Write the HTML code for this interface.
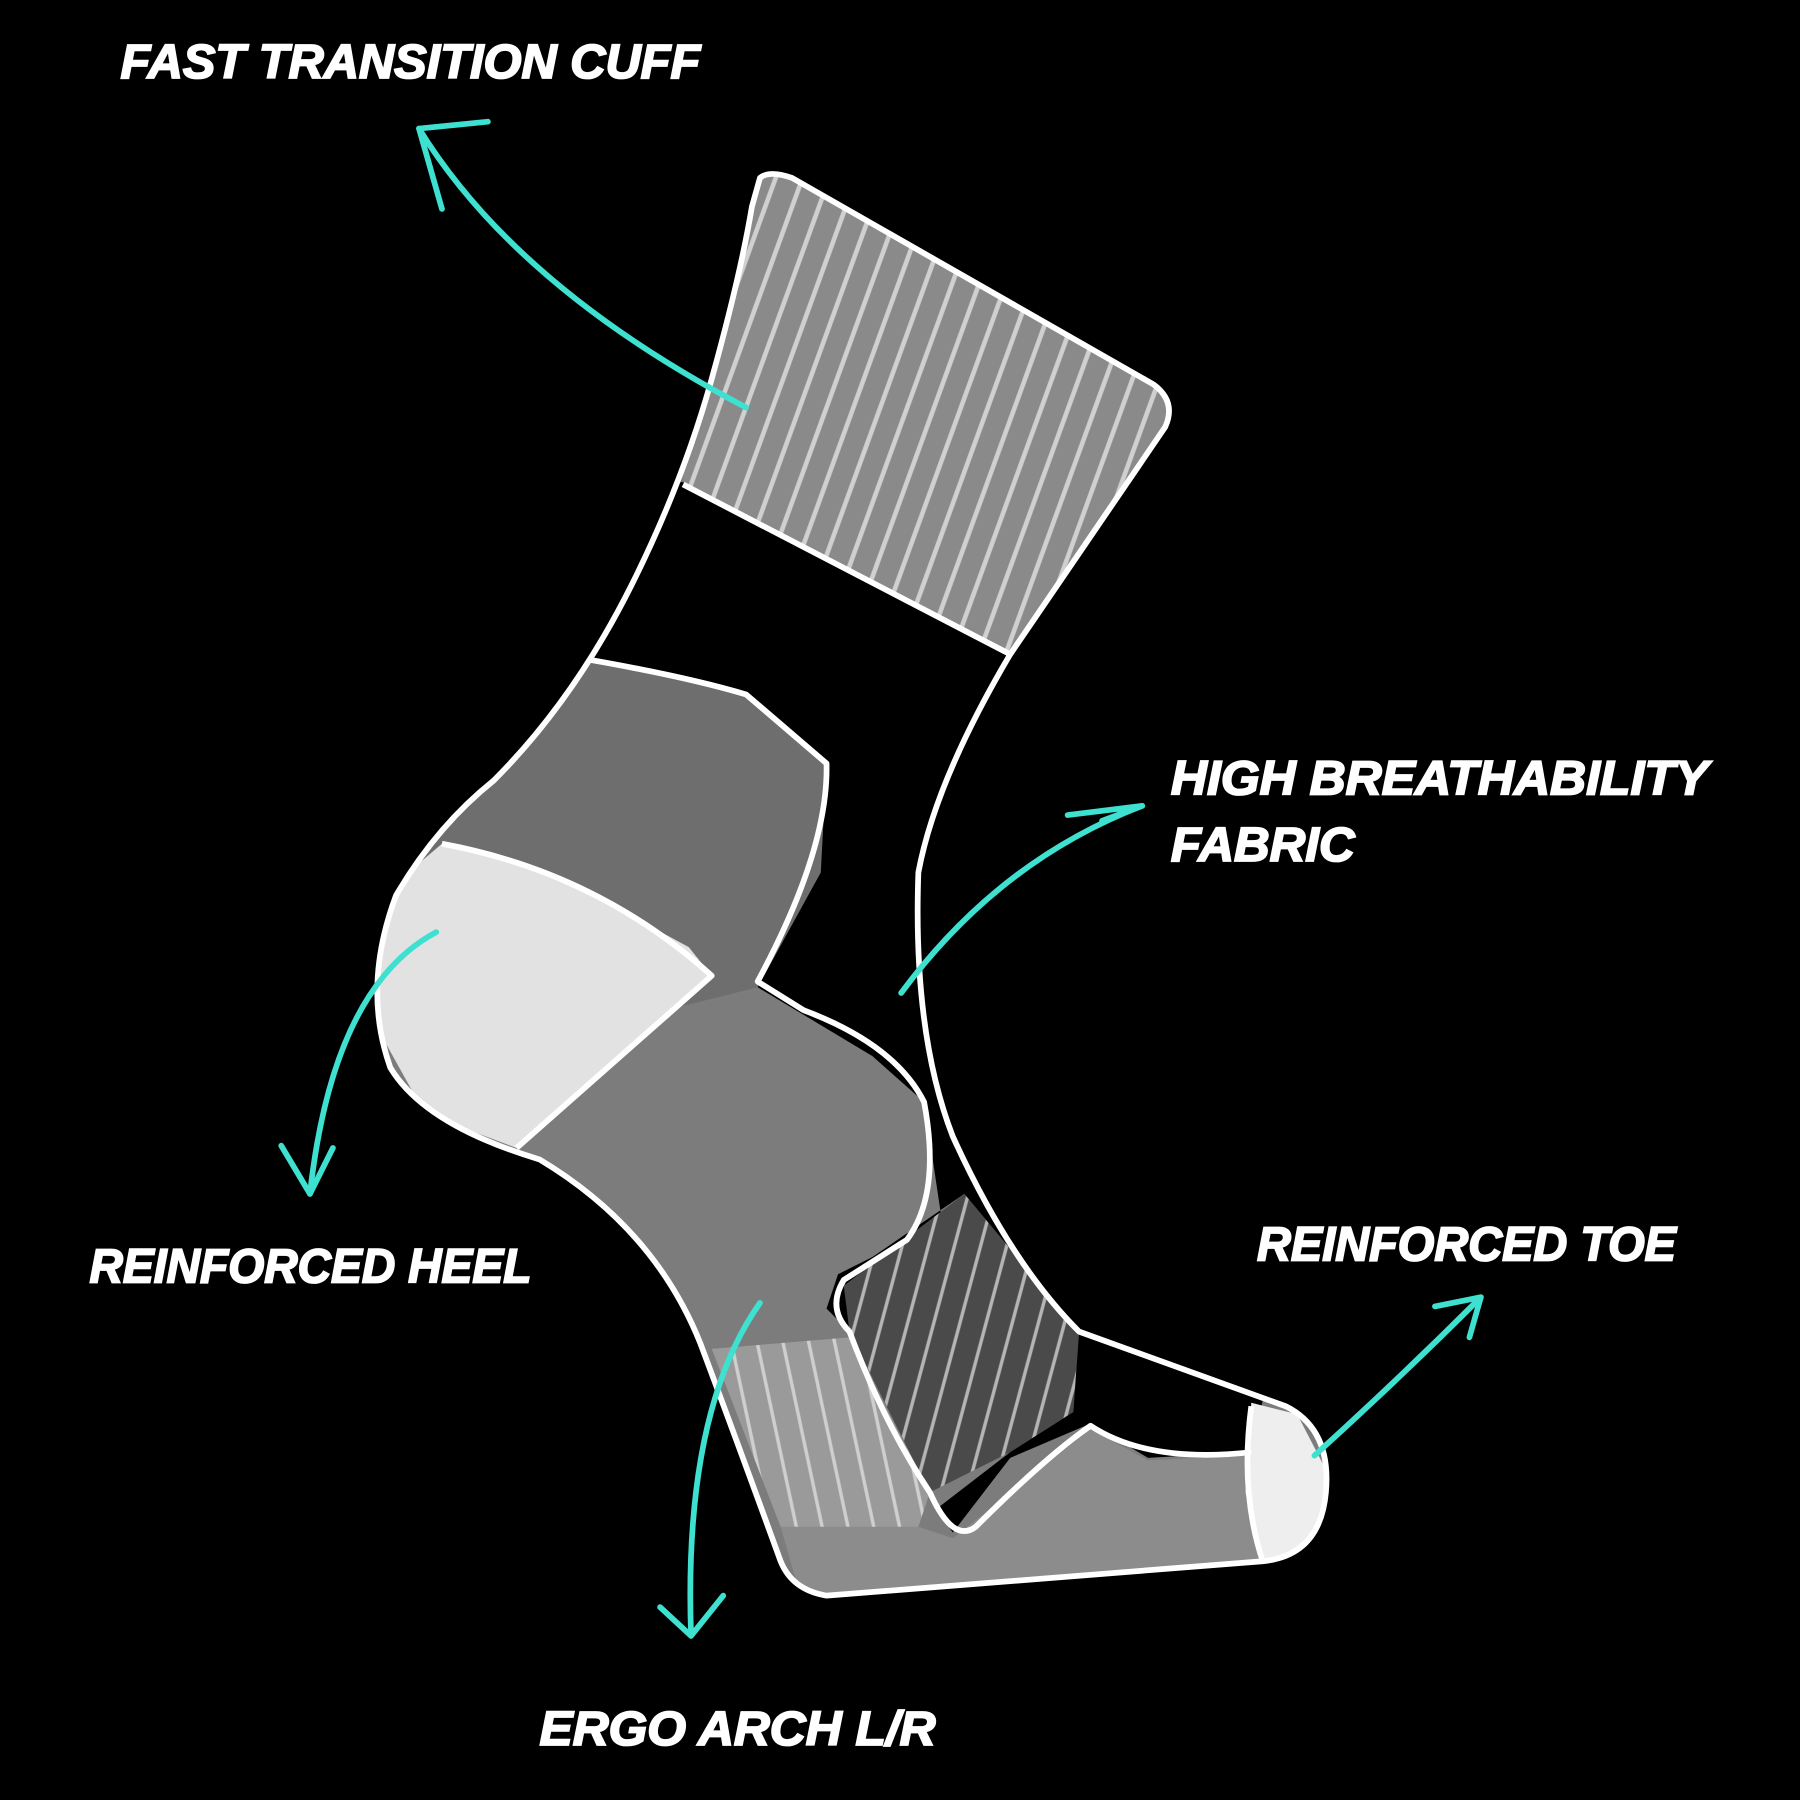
<!DOCTYPE html>
<html><head><meta charset="utf-8"><style>
html,body{margin:0;padding:0;background:#000;}
svg{display:block}
text{font-family:"Liberation Sans",sans-serif;font-weight:bold;font-style:italic;fill:#fff;font-size:42px;stroke:#fff;stroke-width:1.6px}
</style></head><body>
<svg width="1800" height="1800" viewBox="0 0 1568 1568" xmlns="http://www.w3.org/2000/svg">
<defs>
<pattern id="st" width="22" height="40" patternUnits="userSpaceOnUse" patternTransform="rotate(20)">
<rect width="22" height="40" fill="#8a8a8a"/><line x1="6" y1="0" x2="6" y2="40" stroke="#d0d0d0" stroke-width="4"/></pattern>
<pattern id="st2" width="22" height="40" patternUnits="userSpaceOnUse" patternTransform="rotate(15)">
<rect width="22" height="40" fill="#4a4a4a"/><line x1="6" y1="0" x2="6" y2="40" stroke="#b5b5b5" stroke-width="3"/></pattern>
<pattern id="st3" width="22" height="40" patternUnits="userSpaceOnUse" patternTransform="rotate(-12)">
<rect width="22" height="40" fill="#9a9a9a"/><line x1="6" y1="0" x2="6" y2="40" stroke="#cfcfcf" stroke-width="3"/></pattern>
<clipPath id="sock"><path id="sp" d="M662,155 Q670,148 690,155 L1005,335 Q1025,350 1015,372 L880,570 Q815,680 800,760 Q795,900 830,990 Q880,1100 940,1160 L1120,1225 Q1160,1245 1155,1300 Q1150,1355 1100,1360 L720,1390 Q690,1385 680,1360 Q640,1250 610,1170 Q570,1070 470,1010 Q370,980 340,930 Q315,860 345,780 Q380,720 430,680 Q500,610 550,510 Q595,420 620,330 Q645,240 655,180 Z"/></clipPath>
</defs>
<rect width="1568" height="1568" fill="#000"/>
<g clip-path="url(#sock)">
<rect width="1568" height="1568" fill="#7c7c7c"/>
<polygon points="600,0 1100,0 1100,575 880,570 595,420" fill="url(#st)"/>
<polygon points="515,575 650,605 720,665 715,760 660,860 500,900 300,760 420,640" fill="#6e6e6e"/>
<polygon points="595,420 880,570 1100,570 1100,1160 940,1160 840,1040 760,1095 730,1110 720,1140 740,1160 810,1300 820,1060 805,960 760,920 660,860 715,760 720,665 650,605 515,575 400,575 450,420" fill="#000"/>
<polygon points="620,1175 740,1165 810,1300 800,1330 700,1340 680,1330" fill="url(#st3)"/>
<polygon points="740,1160 735,1120 840,1040 940,1160 935,1230 880,1265 810,1300" fill="url(#st2)"/>
<polygon points="940,1160 1100,1220 1090,1265 1000,1270 950,1240 880,1270 830,1335 815,1315 880,1265 935,1230" fill="#000"/>
<polygon points="680,1330 800,1330 830,1340 950,1245 1000,1272 1090,1268 1100,1365 700,1400" fill="#8c8c8c"/>
<polygon points="385,735 480,760 600,825 620,850 450,1000 370,970 320,880 320,790" fill="#e2e2e2"/>
<polygon points="1090,1222 1130,1232 1160,1290 1145,1355 1100,1362 1085,1300" fill="#eeeeee"/>
</g>
<g fill="none" stroke="#fff" stroke-width="5" stroke-linejoin="round">
<use href="#sp"/>
<line x1="595" y1="422" x2="880" y2="570"/>
<path d="M515,575 Q600,590 650,605 L720,665 Q722,740 660,855 L700,880 Q780,910 805,960 Q820,1040 790,1080 L735,1115 Q720,1140 740,1160 Q770,1240 810,1300 Q830,1345 850,1330 Q910,1270 950,1242 Q1000,1275 1090,1265"/>
<path d="M385,735 Q520,760 620,850 L450,1000" />
<path d="M1090,1225 Q1080,1300 1100,1360"/>
</g>
<g fill="none" stroke="#3ee0d0" stroke-width="5" stroke-linecap="round">
<path d="M650,355 Q450,250 365,112"/><path d="M365,112 L385,182 M365,112 L425,106"/>
<path d="M785,865 Q870,750 995,702"/><path d="M995,702 L930,710 M995,702 L960,715"/>
<path d="M380,812 Q290,860 270,1040"/><path d="M270,1040 L245,998 M270,1040 L290,1000"/>
<path d="M662,1135 Q595,1230 602,1425"/><path d="M602,1425 L575,1400 M602,1425 L630,1390"/>
<path d="M1145,1268 Q1220,1200 1290,1130"/><path d="M1290,1130 L1250,1138 M1290,1130 L1280,1165"/>
</g>
<text x="105" y="68" textLength="505" lengthAdjust="spacingAndGlyphs">FAST TRANSITION CUFF</text>
<text x="1020" y="692" textLength="468" lengthAdjust="spacingAndGlyphs">HIGH BREATHABILITY</text>
<text x="1020" y="750" textLength="160" lengthAdjust="spacingAndGlyphs">FABRIC</text>
<text x="78" y="1117" textLength="385" lengthAdjust="spacingAndGlyphs">REINFORCED HEEL</text>
<text x="1095" y="1098" textLength="365" lengthAdjust="spacingAndGlyphs">REINFORCED TOE</text>
<text x="470" y="1520" textLength="345" lengthAdjust="spacingAndGlyphs">ERGO ARCH L/R</text>
</svg>
</body></html>
